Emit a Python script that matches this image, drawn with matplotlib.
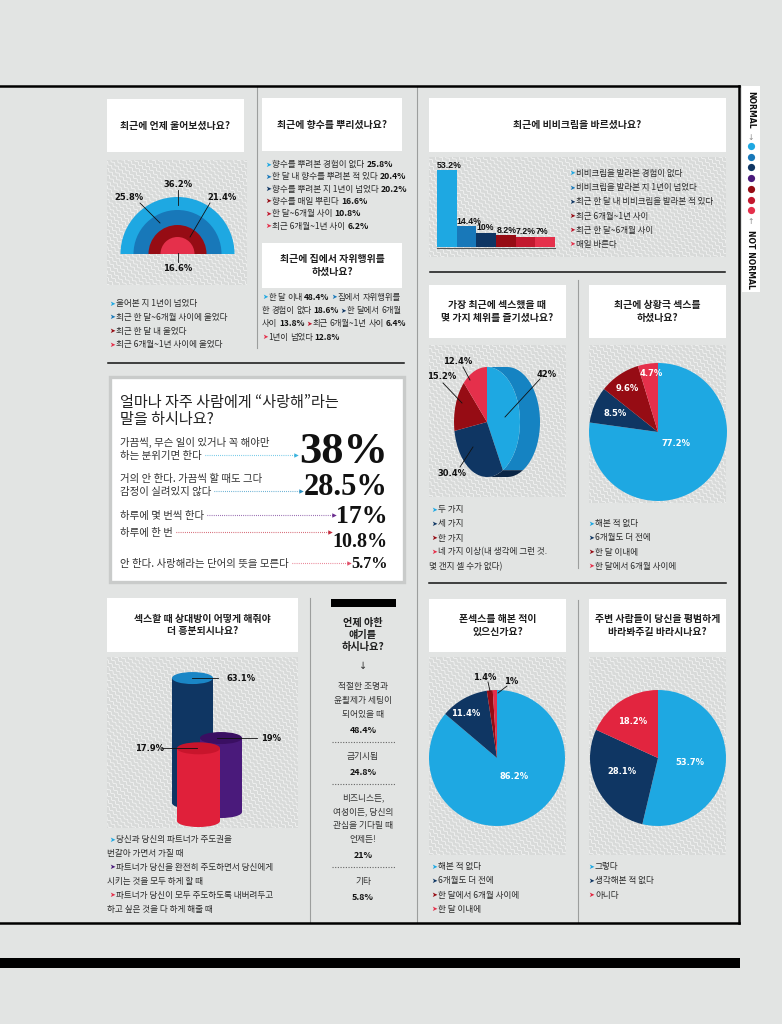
import numpy as np
import matplotlib
matplotlib.use('Agg')
import matplotlib.pyplot as plt
from matplotlib.patches import Rectangle, Ellipse, Polygon, Wedge

W, H = 782, 1024
KR = ['Noto Sans CJK KR', 'DejaVu Sans']
ARW = ['DejaVu Sans']
SERIF = ['Liberation Serif', 'DejaVu Serif']
NUMF = ['DejaVu Sans']
BARF = ['Liberation Sans', 'DejaVu Sans']
plt.rcParams['font.family'] = KR

BG = '#e2e4e3'
INK = '#2b2b2b'
LBLUE, MBLUE, NAVY, PURPLE = '#1ea8e2', '#1878b9', '#0f3663', '#4a1a7b'
DRED, CRIM, PINK = '#960c14', '#c2182e', '#e5304b'

# ---------------- data ----------------
cry_labels = ['울어본 지 1년이 넘었다', '최근 한 달~6개월 사이에 울었다',
              '최근 한 달 내 울었다', '최근 6개월~1년 사이에 울었다']
cry_values = [36.2, 25.8, 21.4, 16.6]

perfume_labels = ['향수를 뿌려본 경험이 없다', '한 달 내 향수를 뿌려본 적 있다',
                  '향수를 뿌려본 지 1년이 넘었다', '향수를 매일 뿌린다',
                  '한 달~6개월 사이', '최근 6개월~1년 사이']
perfume_values = [25.8, 20.4, 20.2, 16.6, 10.8, 6.2]

solo_labels = ['한 달 이내', '집에서 자위행위를 한 경험이 없다', '한 달에서 6개월 사이',
               '최근 6개월~1년 사이', '1년이 넘었다']
solo_values = [48.4, 18.6, 13.8, 6.4, 12.8]

bb_labels = ['비비크림을 발라본 경험이 없다', '비비크림을 발라본 지 1년이 넘었다',
             '최근 한 달 내 비비크림을 발라본 적 있다', '최근 6개월~1년 사이',
             '최근 한 달~6개월 사이', '매일 바른다']
bb_values = [53.2, 14.4, 10, 8.2, 7.2, 7]

love_labels = ['가끔씩, 무슨 일이 있거나 꼭 해야만\n하는 분위기면 한다',
               '거의 안 한다. 가끔씩 할 때도 그다\n감정이 실려있지 않다',
               '하루에 몇 번씩 한다', '하루에 한 번',
               '안 한다. 사랑해라는 단어의 뜻을 모른다']
love_values = [38, 28.5, 17, 10.8, 5.7]

pos_labels = ['두 가지', '세 가지', '한 가지', '네 가지 이상(내 생각에 그런 것.\n몇 갠지 셀 수가 없다)']
pos_values = [42, 30.4, 15.2, 12.4]

role_labels = ['해본 적 없다', '6개월도 더 전에', '한 달 이내에', '한 달에서 6개월 사이에']
role_values = [77.2, 8.5, 9.6, 4.7]

excite_labels = ['당신과 당신의 파트너가 주도권을\n번갈아 가면서 가질 때',
                 '파트너가 당신을 완전히 주도하면서 당신에게\n시키는 것을 모두 하게 할 때',
                 '파트너가 당신이 모두 주도하도록 내버려두고\n하고 싶은 것을 다 하게 해줄 때']
excite_values = [63.1, 19, 17.9]

talk_labels = ['적절한 조명과\n윤활제가 세팅이\n되어있을 때', '금기시됨',
               '비즈니스든,\n여성이든, 당신의\n관심을 기다릴 때\n언제든!', '기타']
talk_values = [48.4, 24.8, 21, 5.8]

phone_labels = ['해본 적 없다', '6개월도 더 전에', '한 달에서 6개월 사이에', '한 달 이내에']
phone_values = [86.2, 11.4, 1.4, 1]

normal_labels = ['그렇다', '생각해본 적 없다', '아니다']
normal_values = [53.7, 28.1, 18.2]

# ---------------- canvas ----------------
fig = plt.figure(figsize=(W / 100, H / 100), dpi=100, facecolor=BG)
ax = fig.add_axes([0, 0, 1, 1])
ax.set_xlim(0, W); ax.set_ylim(H, 0); ax.axis('off')
ov = fig.add_axes([0, 0, 1, 1], zorder=10)
ov.set_xlim(0, W); ov.set_ylim(H, 0); ov.axis('off'); ov.patch.set_visible(False)
R = fig.canvas.get_renderer()


def inset(x, y, w, h):
    a = fig.add_axes([x / W, 1 - (y + h) / H, w / W, h / H])
    a.axis('off')
    return a


def tw(t):
    return t.get_window_extent(renderer=R).width


def put(x, y, s, size, weight='normal', color=INK, family=KR, ha='left', **kw):
    return ov.text(x, y + size * 0.5, s, fontsize=size, fontweight=weight, color=color,
                   family=family, ha=ha, va='baseline', **kw)


def legend(x, y, labels, colors, lh, size=6.2):
    row = 0
    for lab, c in zip(labels, colors):
        parts = lab.split('\n')
        put(x, y + row * lh, '➤', size * 0.8, color=c, family=ARW)
        put(x + 7, y + row * lh, parts[0], size)
        for p in parts[1:]:
            row += 1
            put(x - 2, y + row * lh, p, size)
        row += 1


def title_box(x, y, w, h, s):
    ax.add_patch(Rectangle((x, y), w, h, fc='white', ec='none', zorder=2))
    ov.text(x + w / 2, y + h / 2, s, ha='center', va='center', fontsize=7.1,
            fontweight='bold', color='#1e1e1e', linespacing=1.35)


def waves(x0, y0, w, h):
    rect = Rectangle((x0, y0), w, h, fc='#d8dad9', ec='none', zorder=1)
    ax.add_patch(rect)
    L = w + h
    s = np.linspace(-L, L, int(4 * L))
    for c in np.arange(-L, L, 4.3):
        off = c + 0.9 * np.sin(s * 2 * np.pi / 5.5)
        xs = x0 + w / 2 + (s + off) / np.sqrt(2)
        ys = y0 + h / 2 + (s - off) / np.sqrt(2)
        ln, = ax.plot(xs, ys, color='white', lw=0.5, alpha=0.8, zorder=1.5)
        ln.set_clip_path(rect)


def pct(v):
    return f'{v:g}%'


def leader(x0, y0, x1, y1):
    ov.plot([x0, x1], [y0, y1], color='#111111', lw=0.6)


# ---------------- frame ----------------
ax.plot([0, 739], [86, 86], color='black', lw=1.8, zorder=5)
ax.plot([0, 739], [923, 923], color='black', lw=1.8, zorder=5)
ax.plot([738.5, 738.5], [86, 923], color='black', lw=1.8, zorder=5)
ax.add_patch(Rectangle((0, 958), 740, 10, fc='black', ec='none', zorder=5))
for x, y0, y1 in [(257, 86, 348), (417, 86, 922), (578, 280, 568), (578, 600, 922), (310, 598, 922)]:
    ax.plot([x, x], [y0, y1], color='#9c9e9d', lw=0.8, zorder=3)
for x0, x1, y in [(108, 404, 362.5), (430, 725, 272), (429, 726, 583)]:
    ax.plot([x0, x1], [y, y], color='#111111', lw=1.1, zorder=3)

for r in [(107, 160, 140, 125), (429, 157, 297, 100), (429, 345, 137, 152),
          (589, 345, 137, 158), (107, 657, 191, 171), (429, 657, 137, 198),
          (589, 657, 137, 198)]:
    waves(*r)

# NORMAL strip
ax.add_patch(Rectangle((742, 86), 18, 206, fc='white', ec='none', zorder=2))
ov.text(751, 91, 'NORMAL', rotation=270, ha='center', va='top', fontsize=5.6,
        fontweight='bold', family=ARW, color='#111')
ov.text(751, 137, '↓', ha='center', va='center', fontsize=5.5, family=ARW, color='#888')
ov.text(751, 222, '↑', ha='center', va='center', fontsize=5.5, family=ARW, color='#888')
ov.text(751, 289, 'NOT NORMAL', rotation=270, ha='center', va='bottom', fontsize=5.6,
        fontweight='bold', family=ARW, color='#111')
for i, c in enumerate([LBLUE, MBLUE, NAVY, PURPLE, DRED, CRIM, PINK]):
    ov.plot(751, 146 + i * 10.7, 'o', ms=5.2, color=c, mec='none')

# ---------------- panel 1: crying ----------------
title_box(107, 99, 137, 53, '최근에 언제 울어보셨나요?')
cry_colors = [LBLUE, MBLUE, DRED, PINK]
cry_radii = [57, 44, 29, 17]
for rr, c in zip(cry_radii, cry_colors):
    ax.add_patch(Wedge((177.5, 254), rr, 180, 360, fc=c, ec='none', zorder=3))
cry_pos = [(178, 184), (129, 197), (222, 197), (178, 268)]
for v, (x, y) in zip(cry_values, cry_pos):
    put(x, y, pct(v), 6.0, 'bold', '#111', NUMF, ha='center')
leader(178, 190, 178, 205)
leader(140, 203, 160, 223)
leader(210, 203, 190, 237)
leader(178, 253, 178, 262)
legend(109, 303, cry_labels, cry_colors, 13.8)

# ---------------- panel 2: perfume ----------------
title_box(262, 98, 140, 53, '최근에 향수를 뿌리셨나요?')
perfume_colors = [LBLUE, MBLUE, NAVY, DRED, CRIM, PINK]
for i, (lab, v, c) in enumerate(zip(perfume_labels, perfume_values, perfume_colors)):
    y = 164 + i * 12.3
    put(265, y, '➤', 5.0, color=c, family=ARW)
    t = put(272, y, lab, 6.2)
    put(t.get_window_extent(renderer=R).x1 + 2, y, pct(v), 6.2, 'bold', '#111')

title_box(262, 243, 140, 45, '최근에 집에서 자위행위를\n하셨나요?')
solo_colors = [LBLUE, MBLUE, NAVY, CRIM, PINK]
solo_breaks = [(1, 3), (2, 4), (4, 0)]   # (item, word index) where a new line starts
x, y = 262, 297
for i, (lab, v, c) in enumerate(zip(solo_labels, solo_values, solo_colors)):
    words = [('➤', 'normal', c, ARW, 4.8)] + [(wd, 'normal', INK, KR, 6.0) for wd in lab.split(' ')] \
        + [(pct(v), 'bold', '#111', KR, 6.0)]
    for j, (s, wt, col, fam, sz) in enumerate(words):
        if (i, j) in solo_breaks:
            x, y = 262, y + 13.2
        t = put(x, y, s, sz, wt, col, fam)
        x += tw(t) + (0.6 if fam == ARW else 1.9)

# ---------------- panel 3: bb cream ----------------
title_box(429, 98, 297, 54, '최근에 비비크림을 바르셨나요?')
bb_colors = [LBLUE, MBLUE, NAVY, DRED, CRIM, PINK]
ba = inset(437, 150, 118, 97)
ba.bar(range(len(bb_values)), bb_values, width=1.0, color=bb_colors, lw=0)
ba.set_xlim(-0.5, 5.5); ba.set_ylim(0, 67)
for i, v in enumerate(bb_values):
    ba.annotate(pct(v), (i - 0.5, v), xytext=(0.2, 0.3), textcoords='offset points',
                ha='left', va='bottom', fontsize=6.3, fontweight='bold', family=BARF,
                color='#111', annotation_clip=False)
ax.plot([437, 555], [247.5, 247.5], color='#555', lw=0.8, zorder=3)
legend(569, 173, bb_labels, bb_colors, 14.2, 6.1)

# ---------------- love box ----------------
ax.add_patch(Rectangle((109.5, 376.5), 294, 205, fc='white', ec='#c9cbca', lw=2.4, zorder=2))
put(120, 402, '얼마나 자주 사람에게 “사랑해”라는', 10.9, color='#222')
put(120, 419, '말을 하시나요?', 10.9, color='#222')
love_colors = ['#3ab3de', '#2a8fc0', '#6b2c8f', '#c42a3c', '#e0506a']
love_rows = [455, 491, 515, 532, 563]
love_base = [463, 495, 523, 547, 568]
love_size = [32, 22, 18.5, 14.5, 11.7]
for lab, v, c, yr, yb, sz in zip(love_labels, love_values, love_colors, love_rows, love_base, love_size):
    lines = lab.split('\n')
    t = None
    for j, ln in enumerate(lines):
        t = put(120, yr - (len(lines) - 1 - j) * 13, ln, 7.5, color='#333')
    n = ov.text(388, yb, pct(v), ha='right', va='baseline', fontsize=sz,
                fontweight='bold', family=SERIF, color='#111')
    x0 = t.get_window_extent(renderer=R).x1 + 3
    x1 = n.get_window_extent(renderer=R).x0 - 3
    ov.plot([x0, x1], [yr, yr], ls=(0, (0.6, 1.3)), lw=0.8, color=c)
    ov.plot(x1, yr, marker='>', ms=3.2, color=c, mec='none')

# ---------------- positions (3D pie) ----------------
title_box(429, 285, 137, 53, '가장 최근에 섹스했을 때\n몇 가지 체위를 즐기셨나요?')
pos_colors = [LBLUE, NAVY, DRED, PINK]
rim_colors = ['#1583c2', '#0a2545', '#6e070d', '#b81f36']
fa, fb, depth = 33, 55, 20
cx, cy = 487, 422
xl, xr = -1.6, 1.6 + depth / fa
pa = inset(cx + xl * fa, cy - 1.15 * fb, (xr - xl) * fa, 2.3 * fb)
wedges, _ = pa.pie(pos_values, colors=pos_colors, startangle=90, counterclock=False,
                   radius=1, wedgeprops=dict(lw=0, zorder=2))
pa.set_aspect('auto'); pa.set_xlim(xl, xr); pa.set_ylim(-1.15, 1.15)
dx = depth / fa
for wdg, rc in zip(wedges, rim_colors):
    for sh in (-360, 0, 360):
        lo, hi = max(wdg.theta1 + sh, -90), min(wdg.theta2 + sh, 90)
        if hi > lo:
            th = np.radians(np.linspace(lo, hi, 80))
            front = np.column_stack([np.cos(th), np.sin(th)])
            back = front[::-1] + [dx, 0]
            pa.add_patch(Polygon(np.vstack([front, back]), closed=True, fc=rc, ec='none', zorder=1))
pos_pos = [(547, 374), (452, 473), (442, 376), (458, 361)]
for v, (x, y) in zip(pos_values, pos_pos):
    put(x, y, pct(v), 6.0, 'bold', '#111', NUMF, ha='center')
leader(540, 379, 505, 417)
leader(463, 367, 470, 380)
leader(443, 383, 462, 403)
leader(460, 467, 473, 447)
legend(431, 509, pos_labels, pos_colors, 14.2)

# ---------------- role play pie ----------------
title_box(589, 285, 137, 53, '최근에 상황극 섹스를\n하셨나요?')
role_colors = [LBLUE, NAVY, DRED, PINK]
rcx, rcy, rr = 658, 432, 69
ra = inset(rcx - rr, rcy - rr, 2 * rr, 2 * rr)
ra.pie(role_values, colors=role_colors, startangle=90, counterclock=False, radius=1,
       wedgeprops=dict(lw=0))
ra.set_xlim(-1, 1); ra.set_ylim(-1, 1)
for v, (x, y) in zip(role_values, [(676, 443), (615, 413), (627, 388), (651, 373)]):
    put(x, y, pct(v), 6.0, 'bold', 'white', NUMF, ha='center')
legend(588, 523, role_labels, role_colors, 14.2)

# ---------------- cylinders ----------------
title_box(107, 598, 191, 54, '섹스할 때 상대방이 어떻게 해줘야\n더 흥분되시나요?')
k = 1.156
ca = inset(150, 655, 130, 175)
ca.set_xlim(150, 280); ca.set_ylim((751 - 830) / k, (751 - 655) / k)
cyl_x = [192.5, 221, 198.5]
cyl_w = [41, 42, 43]
cyl_shift = [0, 9, 18]
cyl_body = [NAVY, PURPLE, '#e0203a']
cyl_top = ['#1a86c6', '#3a0f62', '#c8152c']
eh = 12 / k
lab_x = [(192, 218, 227), (217, 257, 261), (197, 162, 135)]
for i, (v, xc, w, sh, cb, ct) in enumerate(zip(excite_values, cyl_x, cyl_w, cyl_shift, cyl_body, cyl_top)):
    s = sh / k
    top, bot = v - s, -45 - s
    ca.bar(xc, top - bot, bottom=bot, width=w, color=cb, lw=0, zorder=3 * i)
    ca.add_patch(Ellipse((xc, bot), w, eh, fc=cb, ec='none', zorder=3 * i))
    ca.add_patch(Ellipse((xc, top), w, eh, fc=ct, ec='none', zorder=3 * i + 1))
    la, lb, tx = lab_x[i]
    ca.plot([la, lb], [top, top], color='#111', lw=0.6, zorder=20)
    ca.text(tx, top, pct(v), ha='left', va='center', fontsize=6.0, fontweight='bold',
            family=NUMF, color='#111', zorder=21)
legend(109, 839, excite_labels, [LBLUE, PURPLE, PINK], 13.9)

# ---------------- talk column ----------------
ax.add_patch(Rectangle((331, 599), 65, 8, fc='black', ec='none', zorder=3))
ov.text(363, 635, '언제 야한\n얘기를\n하시나요?', ha='center', va='center', fontsize=7.3,
        fontweight='bold', color='#1e1e1e', linespacing=1.25)
ov.text(363, 666, '↓', ha='center', va='center', fontsize=7, family=ARW, color='#333')
y = 686
for i, (lab, v) in enumerate(zip(talk_labels, talk_values)):
    for ln in lab.split('\n'):
        put(363, y, ln, 6.3, ha='center', color='#333')
        y += 13.8
    y += 2.5
    put(363, y - 13.8 + 13.8, pct(v), 6.4, 'bold', '#111', ha='center')
    if i < len(talk_labels) - 1:
        ov.plot([332, 396], [y + 12.5] * 2, ls=(0, (1, 1.4)), lw=0.8, color='#666')
        y += 12.5 + 13

# ---------------- phone sex pie ----------------
title_box(429, 599, 137, 53, '폰섹스를 해본 적이\n있으신가요?')
phone_colors = [LBLUE, NAVY, DRED, PINK]
pcx, pcy, pr = 497, 758, 68
pp = inset(pcx - pr, pcy - pr, 2 * pr, 2 * pr)
pp.pie(phone_values, colors=phone_colors, startangle=90, counterclock=False, radius=1,
       wedgeprops=dict(lw=0))
pp.set_xlim(-1, 1); pp.set_ylim(-1, 1)
for v, (x, y), c in zip(phone_values, [(514, 776), (466, 713), (485, 677), (511, 681)],
                        ['white', 'white', '#111', '#111']):
    put(x, y, pct(v), 6.0, 'bold', c, NUMF, ha='center')
leader(488, 682, 490, 691)
leader(507, 686, 498, 693)
legend(431, 866, phone_labels, phone_colors, 14.3)

# ---------------- normal pie ----------------
title_box(589, 599, 137, 53, '주변 사람들이 당신을 평범하게\n바라봐주길 바라시나요?')
normal_colors = [LBLUE, NAVY, '#e2253f']
ncx, ncy, nr = 658, 758, 68
npa = inset(ncx - nr, ncy - nr, 2 * nr, 2 * nr)
npa.pie(normal_values, colors=normal_colors, startangle=90, counterclock=False, radius=1,
        wedgeprops=dict(lw=0))
npa.set_xlim(-1, 1); npa.set_ylim(-1, 1)
for v, (x, y) in zip(normal_values, [(690, 762), (622, 771), (633, 721)]):
    put(x, y, pct(v), 6.0, 'bold', 'white', NUMF, ha='center')
legend(588, 866, normal_labels, normal_colors, 14.3)

fig.savefig('out.png', dpi=100, facecolor=BG)
